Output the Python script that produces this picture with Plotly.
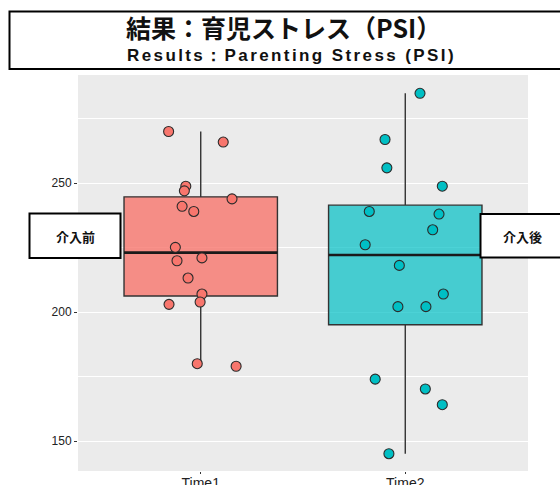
import numpy as np
import plotly.graph_objects as go

# PSI scores per time point, with horizontal jitter for the dot overlay
groups = ["Time1", "Time2"]
time1_scores = [270, 265.9, 248.8, 247.0, 243.9, 241, 239, 225.1, 219.9, 221,
                213.2, 207, 203.9, 203, 180, 179]
time1_jitter = [-0.157, 0.11, -0.073, -0.08, 0.153, -0.091, -0.034, -0.124, -0.116, 0.006,
                -0.062, 0.006, -0.003, -0.155, -0.017, 0.173]
time2_scores = [284.8, 266.9, 255.9, 248.8, 239, 238, 231.9, 226.1, 218.1, 207,
                202.1, 202.1, 174, 170.2, 164.1, 145.1]
time2_jitter = [0.072, -0.099, -0.09, 0.181, -0.176, 0.165, 0.134, -0.196, -0.029, 0.186,
                -0.036, 0.101, -0.147, 0.098, 0.181, -0.08]
y_ticks = [150, 200, 250]

title_ja = "結果：育児ストレス（PSI）"
title_en = "Results：Parenting Stress (PSI)"
label_before = "介入前"
label_after = "介入後"

fills = ["rgba(248,118,109,0.8)", "rgba(0,191,196,0.7)"]
dots = ["#F8766D", "#00BFC4"]
BOX_W = 0.75

fig = go.Figure()
series = [(time1_scores, time1_jitter), (time2_scores, time2_jitter)]

# boxes (ggplot-style quartiles and 1.5*IQR whiskers)
for i, (scores, _) in enumerate(series):
    pos = i + 1
    arr = np.array(scores, dtype=float)
    q1, med, q3 = np.percentile(arr, [25, 50, 75])
    iqr = q3 - q1
    hi = arr[arr <= q3 + 1.5 * iqr].max()
    lo = arr[arr >= q1 - 1.5 * iqr].min()
    fig.add_trace(go.Box(
        x=[pos], q1=[q1], median=[med], q3=[q3], lowerfence=[lo], upperfence=[hi],
        width=BOX_W, whiskerwidth=0, boxpoints=False,
        fillcolor=fills[i], line=dict(color="#333333", width=1.4),
        showlegend=False, hoverinfo="skip"))
    fig.add_trace(go.Scatter(
        x=[pos - BOX_W / 2, pos + BOX_W / 2], y=[med, med], mode="lines",
        line=dict(color="#1a1a1a", width=2.6), showlegend=False, hoverinfo="skip"))

# jittered points
for i, (scores, jit) in enumerate(series):
    pos = i + 1
    fig.add_trace(go.Scatter(
        x=[pos + j for j in jit], y=scores, mode="markers",
        marker=dict(size=10, color=dots[i], line=dict(color="#2b2b2b", width=1.1)),
        showlegend=False, hoverinfo="skip"))

# paper-coordinate helpers (plot area spans x 78..528, y 75..471 px)
def px(xp):
    return (xp - 78) / 450.0

def py(yp):
    return (471 - yp) / 396.0

shapes = [
    dict(type="rect", xref="paper", yref="paper", x0=px(9.5), x1=px(566), y0=py(69), y1=py(11.5),
         line=dict(color="black", width=2), fillcolor="rgba(0,0,0,0)", layer="above"),
    dict(type="rect", xref="paper", yref="paper", x0=px(29.5), x1=px(120.5), y0=py(258), y1=py(213.5),
         line=dict(color="black", width=2), fillcolor="white", layer="above"),
    dict(type="rect", xref="paper", yref="paper", x0=px(480.5), x1=px(566), y0=py(257.5), y1=py(214),
         line=dict(color="black", width=2), fillcolor="white", layer="above"),
]

annotations = [
    dict(text=title_ja, xref="paper", yref="paper", x=px(283), y=py(27), xanchor="center",
         yanchor="middle", showarrow=False,
         font=dict(family="Noto Sans CJK JP", size=25, color="#111111", weight="bold")),
    dict(text='<span style="letter-spacing:2.4px">' + title_en + "</span>", xref="paper",
         yref="paper", x=px(291), y=py(56), xanchor="center", yanchor="middle", showarrow=False,
         font=dict(family="Liberation Sans, Arial, sans-serif", size=17, color="#111111",
                   weight="bold")),
    dict(text=label_before, xref="paper", yref="paper", x=px(75), y=py(236), xanchor="center",
         yanchor="middle", showarrow=False,
         font=dict(family="Noto Sans CJK JP", size=13, color="#111111", weight="bold")),
    dict(text=label_after, xref="paper", yref="paper", x=px(522.5), y=py(236), xanchor="center",
         yanchor="middle", showarrow=False,
         font=dict(family="Noto Sans CJK JP", size=13, color="#111111", weight="bold")),
]

fig.update_layout(
    width=560, height=485,
    margin=dict(l=78, r=32, t=75, b=14),
    paper_bgcolor="white", plot_bgcolor="#EBEBEB",
    showlegend=False,
    shapes=shapes, annotations=annotations,
    xaxis=dict(range=[0.4, 2.6], tickmode="array", tickvals=[1, 2], ticktext=groups,
               showgrid=False, zeroline=False,
               ticks="outside", ticklen=2, tickcolor="#333333", automargin=False,
               ticklabelstandoff=-3,
               tickfont=dict(family="Liberation Sans, Arial, sans-serif", size=14, color="#222222")),
    yaxis=dict(range=[138.4, 291.9], tickmode="array", tickvals=y_ticks,
               showgrid=True, gridcolor="white", gridwidth=1.1, zeroline=False,
               minor=dict(tickmode="array", tickvals=[175, 225, 275], showgrid=True,
                          gridcolor="white", gridwidth=0.5),
               ticks="outside", ticklen=3, tickcolor="#333333", automargin=False,
               tickfont=dict(family="Liberation Sans, Arial, sans-serif", size=12, color="#222222")),
)

fig.write_html("out.html")
